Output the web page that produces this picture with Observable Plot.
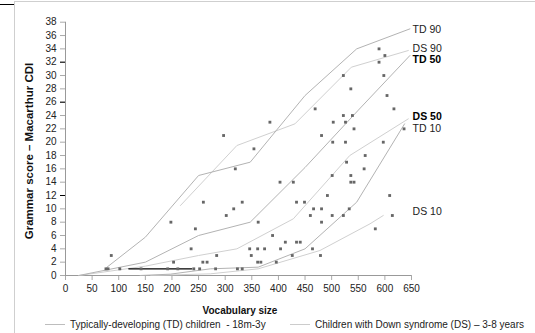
<!DOCTYPE html>
<html><head><meta charset="utf-8">
<script src="https://cdn.jsdelivr.net/npm/d3@7"></script>
<script src="https://cdn.jsdelivr.net/npm/@observablehq/plot@0.6"></script>
<style>body{margin:0;background:#fff;} svg{display:block}</style>
</head><body><div id="chart"></div>
<script>
// ---- data ----
const xTicks = [0,50,100,150,200,250,300,350,400,450,500,550,600,650];
const yTicks = [0,2,4,6,8,10,12,14,16,18,20,22,24,26,28,30,32,34,36,38];
const darkTicks = [12,26,32];

// percentile curves (vocabulary size, grammar score)
const td90 = [[78,1.25],[150,5.75],[250,15],[347,17],[450,27],[547,34],[647,37]];
const ds90 = [[216,10.5],[322,19.5],[431,22.75],[537,31.25],[644,33.75]];
const td50 = [[25,0],[150,2],[250,6],[347,8],[450,16.2],[550,24.8],[647,33]];
const ds50 = [[25,0],[150,1.4],[250,3],[322,4],[428,8.5],[534,18],[644,23.5]];
const td10 = [[140,0],[197,0.2],[272,1],[362,1.25],[450,4],[547,11],[637,22.75]];
const ds10 = [[160,0],[272,0.25],[362,1],[478,3.75],[572,7.75],[597,9]];
const flatRun = [[119,1],[237,1]];

const curveNames = ["TD 90","DS 90","TD 50","DS 50","TD 10","DS 10"];
const curveLabelY = [36.85,34.1,32.35,23.9,22.0,9.6];

// individual children (DS group)
const vocab = [76,80,86,102,142,192,198,203,211,236,241,244,252,258,266,259,282,284,302,316,332,323,332,346,349,361,362,361,367,374,389,396,404,413,426,434,441,434,449,460,466,464,479,481,481,492,501,522,533,319,403,428,501,528,536,536,542,561,469,522,503,526,384,297,481,354,502,526,522,536,539,542,563,589,600,589,598,604,617,636,597,609,614,582];
const grammar = [1,1,3,1,1,1,8,2,1,4,1,7,1,2,2,11,1,3,9,10,11,1,1,4,3,4,8,2,2,4,6,2,4,5,3,5,5,11,11,9,10,4,3,10,8,12,9,9,10,16,14,14,15,17,15,14,14,16,25,24,23,23,23,21,21,19,20,20,30,28,24,22,18,34,33,32,30,27,25,22,20,12,9,7];

// ---- build tables ----
const curves = [td90, ds90, td50, ds50, td10, ds10];
const rows = curves.flatMap((pts, i) => pts.map(([x, y]) => ({name: curveNames[i], group: curveNames[i].slice(0,2), x, y})));
const points = vocab.map((v, i) => ({x: v, y: grammar[i]}));
const labels = curveNames.map((n, i) => ({name: n, y: curveLabelY[i], bold: n.endsWith("50")}));
const flat = flatRun.map(([x, y]) => ({x, y}));

const svg = Plot.plot({
  width: 535, height: 333,
  marginLeft: 65, marginRight: 124, marginTop: 21.7, marginBottom: 58,
  style: {fontFamily: "'Liberation Sans', Arial, sans-serif", fontSize: "10px", color: "#222", background: "#fff"},
  x: {domain: [0, 650]},
  y: {domain: [0, 38]},
  marks: [
    Plot.axisX({ticks: xTicks, tickSize: 5, tickPadding: 4, stroke: "#aaa", fill: "#222", label: null, tickFormat: d => String(d)}),
    Plot.axisY({ticks: yTicks, tickSize: 5, tickPadding: 4, stroke: "#aaa", fill: "#222", label: null, tickFormat: d => String(d)}),
    Plot.axisY({ticks: darkTicks, tickSize: 5, stroke: "#000", label: null, tickFormat: () => ""}),
    Plot.ruleX([0], {stroke: "#999"}),
    Plot.ruleY([0], {stroke: "#999"}),
    Plot.line(rows.filter(d => d.group === "DS"), {x: "x", y: "y", z: "name", stroke: "#d0d0d0", strokeWidth: 1}),
    Plot.line(rows.filter(d => d.group === "TD"), {x: "x", y: "y", z: "name", stroke: "#b3b3b3", strokeWidth: 1}),
    Plot.line(flat, {x: "x", y: "y", stroke: "#000", strokeWidth: 1.4}),
    Plot.dot(points, {x: "x", y: "y", symbol: "square", r: 1.6, fill: "#666", stroke: "none"}),
    Plot.text(labels.filter(d => !d.bold), {x: 652, y: "y", text: "name", textAnchor: "start", fill: "#222", fontSize: 10.5}),
    Plot.text(labels.filter(d => d.bold), {x: 652, y: "y", text: "name", textAnchor: "start", fill: "#000", fontSize: 10.5, fontWeight: "bold"})
  ]
});

const s = d3.select(svg);
// outer frame of the cropped figure
s.append("line").attr("x1", 14).attr("x2", 535).attr("y1", 1.5).attr("y2", 1.5).attr("stroke", "#cfcfcf");
s.append("line").attr("x1", 14.5).attr("x2", 14.5).attr("y1", 1).attr("y2", 333).attr("stroke", "#cfcfcf");
s.append("line").attr("x1", 0).attr("x2", 14).attr("y1", 4.5).attr("y2", 4.5).attr("stroke", "#000");

// axis titles
s.append("text").attr("transform", "translate(33,151) rotate(-90)").attr("text-anchor", "middle")
  .attr("font-weight", "bold").attr("font-size", "11.5px").attr("fill", "#111").text("Grammar score – Macarthur CDI");
s.append("text").attr("x", 240).attr("y", 314).attr("text-anchor", "middle")
  .attr("font-weight", "bold").attr("font-size", "10px").attr("fill", "#111").text("Vocabulary size");

// legend
const legend = [
  {x: 45, text: "Typically-developing (TD) children  - 18m-3y", color: "#bdbdbd"},
  {x: 290, text: "Children with Down syndrome (DS) – 3-8 years", color: "#cccccc"}
];
legend.forEach(l => {
  s.append("line").attr("x1", l.x).attr("x2", l.x + 20).attr("y1", 324.5).attr("y2", 324.5).attr("stroke", l.color);
  s.append("text").attr("x", l.x + 25).attr("y", 328).attr("text-anchor", "start").attr("font-size", "10px").attr("fill", "#222")
    .style("white-space", "pre").text(l.text);
});

document.getElementById("chart").appendChild(svg);
</script>
</body></html>
